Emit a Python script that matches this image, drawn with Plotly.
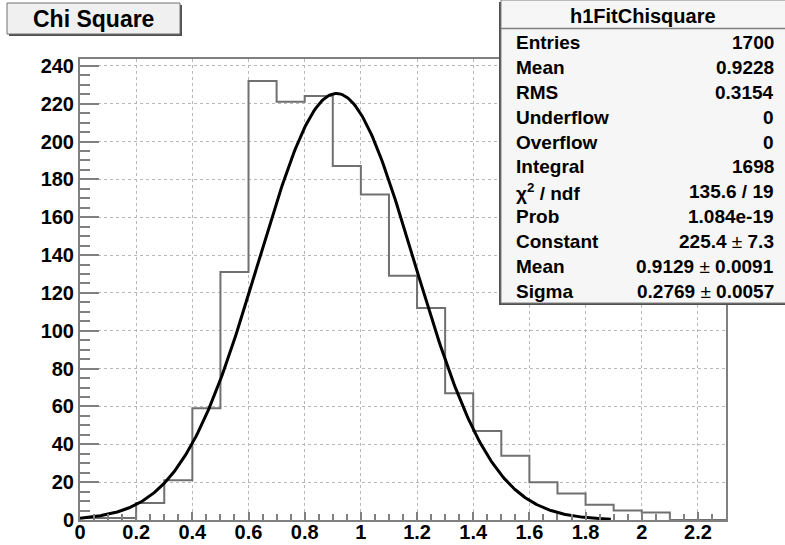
import numpy as np
import plotly.graph_objects as go

# Histogram: 23 bins of width 0.1 between 0 and 2.3
bin_edges = [round(0.1 * i, 1) for i in range(24)]
bin_counts = [1, 1, 9, 21, 59, 131, 232, 221, 224, 187, 172, 129, 112,
              67, 47, 34, 20, 14, 8, 5, 4, 0, 0]

# Gaussian fit result
fit_constant = 225.4
fit_mean = 0.9129
fit_sigma = 0.2769
fit_xmin, fit_xmax = 0.0, 1.89

# Statistics box contents
stats_title = "h1FitChisquare"
stats_labels = ["Entries", "Mean", "RMS", "Underflow", "Overflow", "Integral",
                "χ<sup>2</sup> / ndf", "Prob", "Constant", "Mean", "Sigma"]
PM = '<span style="font-weight:normal">±</span>'
stats_values = ["1700", "0.9228", "0.3154", "0", "0", "1698", "135.6 / 19",
                "1.084e-19", f"225.4 {PM} 7.3", f"0.9129 {PM} 0.0091",
                f"0.2769 {PM} 0.0057"]

x_ticks = [0, 0.2, 0.4, 0.6, 0.8, 1, 1.2, 1.4, 1.6, 1.8, 2, 2.2]
x_ticktext = ["0", "0.2", "0.4", "0.6", "0.8", "1", "1.2", "1.4", "1.6", "1.8", "2", "2.2"]
y_ticks = list(range(0, 241, 20))

W, H = 785, 545
L, R, T, B = 80, 59, 59, 25
FONT = "Liberation Sans, Arial, sans-serif"


def px(x):
    return (x - L) / (W - L - R)


def py(y):
    return (H - B - y) / (H - T - B)


fit_x = np.linspace(fit_xmin, fit_xmax, 400)
fit_y = fit_constant * np.exp(-0.5 * ((fit_x - fit_mean) / fit_sigma) ** 2)

fig = go.Figure()
fig.add_trace(go.Scatter(
    x=bin_edges, y=bin_counts + [bin_counts[-1]], mode="lines",
    line=dict(shape="hv", color="#707070", width=2), hoverinfo="skip"))
fig.add_trace(go.Scatter(
    x=fit_x, y=fit_y, mode="lines",
    line=dict(color="black", width=3), hoverinfo="skip"))

axis_common = dict(
    showline=True, linecolor="#808080", linewidth=2, mirror=True,
    ticks="inside", tickcolor="#808080", tickwidth=2,
    showgrid=True, gridcolor="#b8b8b8", griddash="dot", gridwidth=1,
    zeroline=False, automargin=False,
    tickfont=dict(family=FONT, size=20, color="black", weight="bold"),
)

fig.update_xaxes(
    range=[0, 2.3], tickvals=x_ticks, ticktext=x_ticktext, ticklen=8,
    ticklabelstandoff=-7,
    minor=dict(dtick=0.05, tick0=0, ticks="inside", ticklen=6,
               tickcolor="#808080", tickwidth=1.5, showgrid=False),
    **axis_common)
fig.update_yaxes(
    range=[0, 243.6], tickvals=y_ticks, ticklen=19,
    minor=dict(dtick=5, tick0=0, ticks="inside", ticklen=10,
               tickcolor="#808080", tickwidth=1.5, showgrid=False),
    **axis_common)

shapes = []
annotations = []

# Title box with shadow
shapes.append(dict(type="rect", xref="paper", yref="paper",
                   x0=px(9), x1=px(182), y0=py(36), y1=py(5),
                   fillcolor="#505050", line=dict(width=0), layer="above"))
shapes.append(dict(type="rect", xref="paper", yref="paper",
                   x0=px(7), x1=px(180), y0=py(34), y1=py(3),
                   fillcolor="#f0f0f0", line=dict(color="#707070", width=1),
                   layer="above"))
annotations.append(dict(xref="paper", yref="paper", x=px(93.5), y=py(19),
                        text="Chi Square", showarrow=False,
                        xanchor="center", yanchor="middle",
                        font=dict(family=FONT, size=23, color="black", weight="bold")))

# Statistics box with shadow
shapes.append(dict(type="rect", xref="paper", yref="paper",
                   x0=px(499), x1=px(786), y0=py(305), y1=py(2),
                   fillcolor="#505050", line=dict(width=0), layer="above"))
shapes.append(dict(type="rect", xref="paper", yref="paper",
                   x0=px(501), x1=px(786), y0=py(303), y1=py(0),
                   fillcolor="#f6f6f6", line=dict(color="#808080", width=1),
                   layer="above"))
shapes.append(dict(type="line", xref="paper", yref="paper",
                   x0=px(501), x1=px(786), y0=py(28.5), y1=py(28.5),
                   line=dict(color="#808080", width=1.5), layer="above"))
annotations.append(dict(xref="paper", yref="paper", x=px(643), y=py(16),
                        text=stats_title, showarrow=False,
                        xanchor="center", yanchor="middle",
                        font=dict(family=FONT, size=20, color="black", weight="bold")))

row_y0, row_step = 43, 24.8
for i, (lab, val) in enumerate(zip(stats_labels, stats_values)):
    yy = py(row_y0 + i * row_step)
    annotations.append(dict(xref="paper", yref="paper", x=px(514), y=yy,
                            text=lab, showarrow=False, xanchor="left", yanchor="middle",
                            font=dict(family=FONT, size=19, color="black", weight="bold")))
    annotations.append(dict(xref="paper", yref="paper", x=px(776), y=yy,
                            text=val, showarrow=False, xanchor="right", yanchor="middle",
                            font=dict(family=FONT, size=19, color="black", weight="bold")))

fig.update_layout(
    width=W, height=H,
    margin=dict(l=L, r=R, t=T, b=B, pad=0),
    paper_bgcolor="white", plot_bgcolor="white",
    showlegend=False,
    shapes=shapes, annotations=annotations,
)

fig.write_html("out.html")
